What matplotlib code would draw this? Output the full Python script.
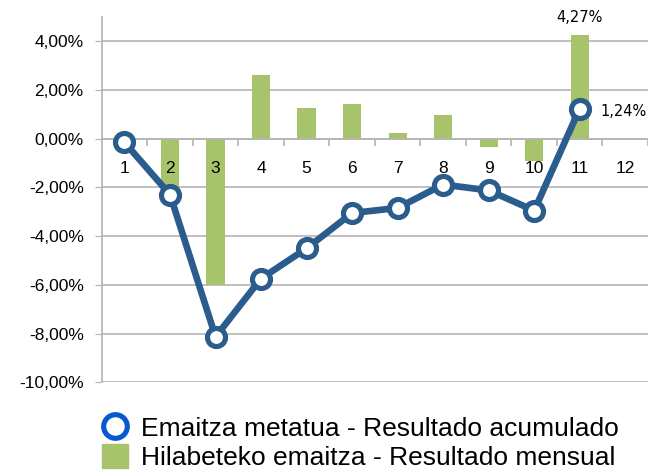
import matplotlib.pyplot as plt
import matplotlib.ticker as mticker
from matplotlib.lines import Line2D
from matplotlib.patches import Patch

plt.rcParams['font.family'] = ['Liberation Sans', 'DejaVu Sans']

# datos (en %)
months = [1, 2, 3, 4, 5, 6, 7, 8, 9, 10, 11, 12]
monthly = [0.0, -2.2, -6.0, 2.61, 1.27, 1.44, 0.22, 0.98, -0.32, -0.91, 4.27, 0.0]
cumMonths = [1, 2, 3, 4, 5, 6, 7, 8, 9, 10, 11]
cumulative = [-0.15, -2.29, -8.13, -5.74, -4.50, -3.05, -2.84, -1.88, -2.12, -2.95, 1.24]
yTicks = [-10, -8, -6, -4, -2, 0, 2, 4]
yLabels = ['-10,00%', '-8,00%', '-6,00%', '-4,00%', '-2,00%', '0,00%', '2,00%', '4,00%']

lineColor = '#2b5c8e'
barColor = '#a7c46c'
gridColor = '#b4b4b4'

fig = plt.figure(figsize=(6.48, 4.72), dpi=100)
ax = fig.add_axes([0.157, 0.19, 0.843, 0.774])

ax.bar(months, monthly, width=0.4, color=barColor, zorder=2)
ax.plot(cumMonths, cumulative, color=lineColor, lw=4.8, marker='o', ms=13,
        mfc='white', mec=lineColor, mew=3.7, zorder=3)

ax.set_xlim(0.5, 12.5)
ax.set_ylim(-10, 5)

# eje y
ax.yaxis.set_major_locator(mticker.FixedLocator(yTicks))
ax.set_yticklabels(yLabels, fontsize=12.5)
ax.tick_params(axis='y', length=5, color=gridColor, pad=8)
ax.yaxis.grid(True, color=gridColor, lw=1.2, zorder=0)

# eje x sobre el cero, etiquetas encima de las barras
ax.xaxis.set_zorder(2.5)
ax.spines['bottom'].set_position(('data', 0))
ax.spines['bottom'].set_color(gridColor)
ax.spines['bottom'].set_linewidth(1.2)
ax.spines['top'].set_visible(False)
ax.spines['right'].set_visible(False)
ax.spines['left'].set_color(gridColor)
ax.spines['left'].set_linewidth(1.2)
ax.xaxis.set_major_locator(mticker.FixedLocator([m + 0.5 for m in months]))
ax.xaxis.set_major_formatter(mticker.NullFormatter())
ax.xaxis.set_minor_locator(mticker.FixedLocator(months))
ax.xaxis.set_minor_formatter(mticker.FixedFormatter([str(m) for m in months]))
ax.tick_params(axis='x', which='major', direction='out', length=5, color=gridColor, width=1.2)
ax.tick_params(axis='x', which='minor', length=0, pad=16, labelsize=12.5)

# etiquetas de valores
ax.annotate(f"{monthly[10]:.2f}".replace('.', ',') + '%', (months[10], monthly[10]),
            xytext=(0, 7), textcoords='offset points', ha='center', va='bottom',
            fontsize=10.5, family='DejaVu Sans')
ax.annotate(f"{cumulative[10]:.2f}".replace('.', ',') + '%', (cumMonths[10], cumulative[10]),
            xytext=(15, -2), textcoords='offset points', ha='left', va='center',
            fontsize=10.5, family='DejaVu Sans')

handles = [
    Line2D([], [], ls='none', marker='o', ms=17, mfc='white', mec='#0a58d0', mew=3.7),
    Patch(color=barColor),
]
labels = ['Emaitza metatua - Resultado acumulado', 'Hilabeteko emaitza - Resultado mensual']
fig.legend(handles, labels, loc='upper left', bbox_to_anchor=(0.157, 0.12),
           frameon=False, fontsize=19, handlelength=1.0, handleheight=1.0,
           handletextpad=0.5, labelspacing=0.12, borderaxespad=0, borderpad=0)

plt.savefig('out.png', dpi=100)
